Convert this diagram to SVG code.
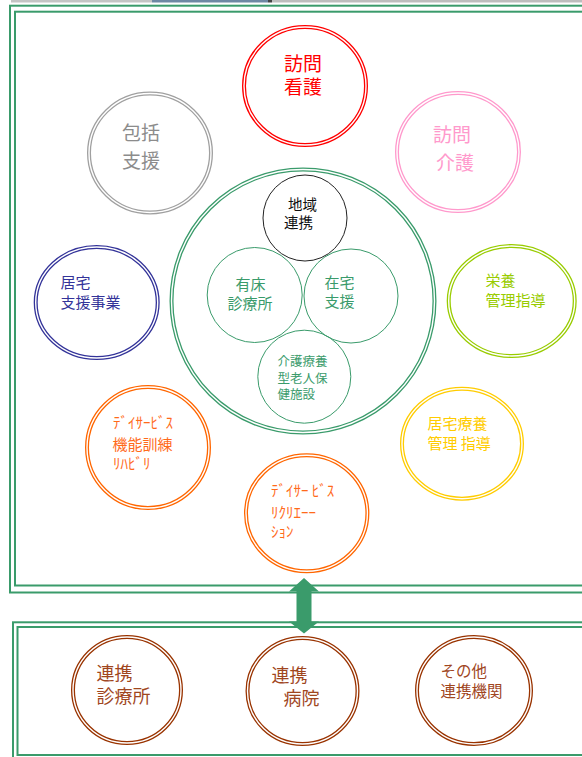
<svg xmlns="http://www.w3.org/2000/svg" width="582" height="757" viewBox="0 0 582 757">
<style>
text{font-family:"Noto Sans CJK JP","Noto Sans",sans-serif;}
.frame{fill:none;stroke:#3a9b6b;stroke-width:2;}
.dbl{fill:#fff;stroke-width:4;}
.gap{fill:none;stroke:#fff;stroke-width:1.4;}
.thin{fill:none;stroke:#3a9b6b;stroke-width:1;}
.big{font-size:19px;}
.mid{font-size:15px;}
.sm{font-size:12.5px;}
.lg{font-size:18px;}
</style>
<rect x="0" y="0" width="582" height="757" fill="#fff"/>
<g id="top-strip">
<rect x="11" y="0" width="141" height="2.5" fill="#c4c4c4"/>
<rect x="152" y="0" width="116" height="2.5" fill="#6f88a4"/>
<rect x="268" y="0" width="4" height="2.5" fill="#444"/>
<rect x="272" y="0" width="310" height="2.5" fill="#bdbdbd"/>
</g>
<g id="frame-top">
<rect class="frame" x="10" y="5.7" width="600" height="586.8"/>
<rect class="frame" x="15" y="11.7" width="600" height="573.8"/>
</g>
<g id="frame-bottom">
<rect class="frame" x="13" y="622.3" width="600" height="140"/>
<rect class="frame" x="17.5" y="627" width="600" height="128"/>
</g>

<g id="houmon-kango">
<ellipse class="dbl" stroke="#ff0000" cx="305" cy="86" rx="61" ry="59"/>
<ellipse class="gap" cx="305" cy="86" rx="61" ry="59"/>
<text class="big" fill="#ff0000"><tspan x="284" y="71">訪問</tspan><tspan x="284" y="94">看護</tspan></text>
</g>
<g id="houkatsu-shien">
<ellipse class="dbl" stroke="#a0a0a0" cx="150" cy="153" rx="61" ry="59.5"/>
<ellipse class="gap" cx="150" cy="153" rx="61" ry="59.5"/>
<text class="big" fill="#8c8c8c"><tspan x="122" y="140">包括</tspan><tspan x="122" y="168">支援</tspan></text>
</g>
<g id="houmon-kaigo">
<ellipse class="dbl" stroke="#ff99cc" cx="458" cy="152" rx="61" ry="59"/>
<ellipse class="gap" cx="458" cy="152" rx="61" ry="59"/>
<text class="big" fill="#ff99cc"><tspan x="433" y="142">訪問</tspan><tspan x="436" y="170">介護</tspan></text>
</g>

<g id="center">
<circle class="dbl" stroke="#3a9b6b" cx="303" cy="301" r="131.5"/>
<circle class="gap" cx="303" cy="301" r="131.5"/>
</g>
<g id="chiiki-renkei">
<ellipse fill="#fff" stroke="#222" stroke-width="1" cx="305" cy="218" rx="42" ry="43"/>
<text fill="#111" style="font-size:14.5px"><tspan x="288" y="210">地域</tspan><tspan x="284" y="228">連携</tspan></text>
</g>
<g id="yushou">
<circle class="thin" cx="254.7" cy="295" r="47.5"/>
<text class="mid" fill="#3a9b6b"><tspan x="235.5" y="290">有床</tspan><tspan x="227.5" y="308.5">診療所</tspan></text>
</g>
<g id="zaitaku">
<circle class="thin" cx="351" cy="296" r="47"/>
<text class="mid" fill="#3a9b6b"><tspan x="324.5" y="288">在宅</tspan><tspan x="324.5" y="307">支援</tspan></text>
</g>
<g id="kaigo-ryouyou">
<circle class="thin" cx="304.3" cy="376.7" r="46.5"/>
<text class="sm" fill="#3a9b6b"><tspan x="277.5" y="366">介護療養</tspan><tspan x="277.5" y="382.5">型老人保</tspan><tspan x="277.5" y="399">健施設</tspan></text>
</g>

<g id="kyotaku-shien">
<ellipse class="dbl" stroke="#333399" cx="96.7" cy="302.5" rx="61" ry="55.5"/>
<ellipse class="gap" cx="96.7" cy="302.5" rx="61" ry="55.5"/>
<text class="mid" fill="#333399"><tspan x="60.5" y="288">居宅</tspan><tspan x="60.5" y="307.5">支援事業</tspan></text>
</g>
<g id="eiyou">
<ellipse class="dbl" stroke="#99cc00" cx="511.7" cy="301" rx="63" ry="55"/>
<ellipse class="gap" cx="511.7" cy="301" rx="63" ry="55"/>
<text class="mid" fill="#99cc00"><tspan x="485.5" y="286">栄養</tspan><tspan x="485.5" y="306">管理指導</tspan></text>
</g>
<g id="day-kinou">
<ellipse class="dbl" stroke="#ff6600" cx="148" cy="447.5" rx="61" ry="60.5"/>
<ellipse class="gap" cx="148" cy="447.5" rx="61" ry="60.5"/>
<text class="mid" fill="#ff6a1a"><tspan x="113" y="428">ﾃﾞｲｻｰﾋﾞｽ</tspan><tspan x="112.5" y="449.5">機能訓練</tspan><tspan x="113" y="468.5">ﾘﾊﾋﾞﾘ</tspan></text>
</g>
<g id="kyotaku-ryouyou">
<ellipse class="dbl" stroke="#ffcc00" cx="462" cy="443.7" rx="60" ry="55"/>
<ellipse class="gap" cx="462" cy="443.7" rx="60" ry="55"/>
<text class="mid" fill="#ffcc00"><tspan x="427.5" y="429">居宅療養</tspan><tspan x="427.5" y="449">管理 指導</tspan></text>
</g>
<g id="day-recreation">
<ellipse class="dbl" stroke="#ff6600" cx="306.7" cy="513.3" rx="60.7" ry="58"/>
<ellipse class="gap" cx="306.7" cy="513.3" rx="60.7" ry="58"/>
<text class="mid" fill="#ff6a1a"><tspan x="271" y="495.5">ﾃﾞｲｻｰ ﾋﾞｽ</tspan><tspan x="271" y="517.5">ﾘｸﾘｴｰｰ</tspan><tspan x="271" y="537">ｼｮﾝ</tspan></text>
</g>

<g id="connectors">
<polygon fill="#3a9b6b" points="304,578 319,591.5 311.5,591.5 311.5,621.5 319,621.5 304,633.5 289,621.5 296.5,621.5 296.5,591.5 289,591.5"/>
</g>

<g id="renkei-shinryoujo">
<ellipse class="dbl" stroke="#993300" cx="127" cy="690" rx="54" ry="53"/>
<ellipse class="gap" cx="127" cy="690" rx="54" ry="53"/>
<text class="lg" fill="#a0461e"><tspan x="96.5" y="680">連携</tspan><tspan x="96.5" y="703">診療所</tspan></text>
</g>
<g id="renkei-byouin">
<ellipse class="dbl" stroke="#993300" cx="302.5" cy="691" rx="55" ry="53"/>
<ellipse class="gap" cx="302.5" cy="691" rx="55" ry="53"/>
<text class="lg" fill="#a0461e"><tspan x="271.5" y="682">連携</tspan><tspan x="283.5" y="705">病院</tspan></text>
</g>
<g id="sonota">
<ellipse class="dbl" stroke="#993300" cx="474" cy="690.5" rx="57" ry="53.5"/>
<ellipse class="gap" cx="474" cy="690.5" rx="57" ry="53.5"/>
<text fill="#a0461e" style="font-size:15.5px"><tspan x="440.5" y="677">その他</tspan><tspan x="440.5" y="697">連携機関</tspan></text>
</g>
</svg>
